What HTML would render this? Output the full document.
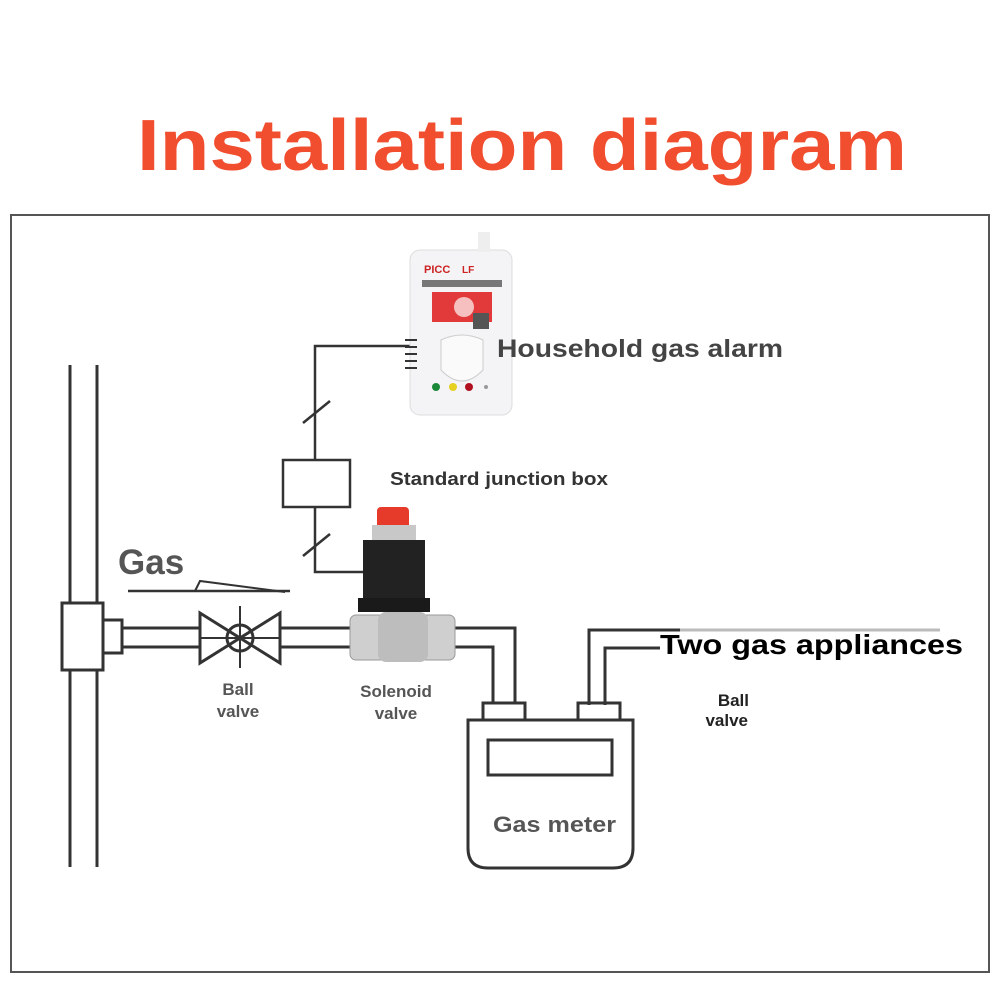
<!DOCTYPE html>
<html><head><meta charset="utf-8"><style>
html,body{margin:0;padding:0;background:#fff;}
svg{display:block}
text{font-family:"Liberation Sans","DejaVu Sans",sans-serif;font-weight:bold}
</style></head><body>
<svg width="1000" height="1000" viewBox="0 0 1000 1000" xmlns="http://www.w3.org/2000/svg">
<rect width="1000" height="1000" fill="#fff"/>
<text x="522" y="170" text-anchor="middle" font-size="72" fill="#f14e2f" textLength="770" lengthAdjust="spacingAndGlyphs">Installation diagram</text>
<rect x="11" y="215" width="978" height="757" fill="none" stroke="#555" stroke-width="2"/>
<g fill="none" stroke="#333" stroke-width="3">
<line x1="70" y1="365" x2="70" y2="867"/>
<line x1="97" y1="365" x2="97" y2="867"/>
<rect x="62" y="603" width="41" height="67" fill="#fff"/>
<rect x="103" y="620" width="19" height="33" fill="#fff"/>
<line x1="122" y1="628" x2="200" y2="628"/>
<line x1="122" y1="647" x2="200" y2="647"/>
<polygon points="200,613 240,638 200,663" fill="#fff"/>
<polygon points="280,613 240,638 280,663" fill="#fff"/>
<circle cx="240" cy="638" r="13"/>
<line x1="240" y1="606" x2="240" y2="668" stroke-width="2"/>
<line x1="200" y1="638" x2="280" y2="638" stroke-width="2"/>
<line x1="280" y1="628" x2="352" y2="628"/>
<line x1="280" y1="647" x2="352" y2="647"/>
<polyline points="455,628 515,628 515,705"/>
<polyline points="455,647 493,647 493,705"/>
<rect x="483" y="703" width="42" height="17" fill="#fff"/>
<rect x="578" y="703" width="42" height="17" fill="#fff"/>
<path d="M468,720 H633 V848 Q633,868 613,868 H488 Q468,868 468,848 Z" fill="#fff"/>
<rect x="488" y="740" width="124" height="35"/>
<polyline points="589,705 589,630 680,630"/>
<polyline points="605,705 605,648 660,648"/>
<polyline points="410,346 315,346 315,460" stroke-width="2.5"/>
<line x1="303" y1="423" x2="330" y2="401" stroke-width="2.5"/>
<rect x="283" y="460" width="67" height="47" stroke-width="2.5"/>
<polyline points="315,507 315,572 365,572" stroke-width="2.5"/>
<line x1="303" y1="556" x2="330" y2="534" stroke-width="2.5"/>
<line x1="128" y1="591" x2="290" y2="591" stroke-width="2.5"/>
<polyline points="195,591 200,581 285,592" stroke-width="2"/>
</g>
<line x1="680" y1="630" x2="940" y2="630" stroke="#bbb" stroke-width="3"/>
<rect x="377" y="507" width="32" height="22" rx="4" fill="#e63a2a"/>
<rect x="372" y="525" width="44" height="18" fill="#c8c8c8"/>
<rect x="363" y="540" width="62" height="60" fill="#222"/>
<rect x="358" y="598" width="72" height="14" fill="#1a1a1a"/>
<rect x="350" y="615" width="105" height="45" rx="6" fill="#cfcfcf" stroke="#999"/>
<rect x="378" y="612" width="50" height="50" rx="8" fill="#bdbdbd"/>
<rect x="410" y="250" width="102" height="165" rx="10" fill="#f4f4f6" stroke="#ddd"/>
<rect x="478" y="232" width="12" height="20" fill="#eee"/>
<text x="424" y="273" font-size="11" fill="#c22">PICC</text>
<text x="462" y="273" font-size="10" fill="#c22">LF</text>
<rect x="422" y="280" width="80" height="7" fill="#777"/>
<rect x="432" y="292" width="60" height="30" fill="#e23a3a"/>
<circle cx="464" cy="307" r="10" fill="#f6c0c0"/>
<rect x="473" y="313" width="16" height="16" fill="#555"/>
<path d="M441,340 Q462,330 483,340 V370 Q462,392 441,370 Z" fill="#fafafa" stroke="#ccc"/>
<g stroke="#333" stroke-width="2"><line x1="405" y1="340" x2="417" y2="340"/><line x1="405" y1="347" x2="417" y2="347"/><line x1="405" y1="354" x2="417" y2="354"/><line x1="405" y1="361" x2="417" y2="361"/><line x1="405" y1="368" x2="417" y2="368"/></g>
<circle cx="436" cy="387" r="4" fill="#1a8a3a"/>
<circle cx="453" cy="387" r="4" fill="#e6d020"/>
<circle cx="469" cy="387" r="4" fill="#b01020"/>
<circle cx="486" cy="387" r="2" fill="#999"/>
<text x="118" y="574" font-size="35" fill="#555">Gas</text>
<text x="497" y="357" font-size="25" fill="#444" textLength="286" lengthAdjust="spacingAndGlyphs">Household gas alarm</text>
<text x="390" y="485" font-size="18" fill="#333" textLength="218" lengthAdjust="spacingAndGlyphs">Standard junction box</text>
<text x="660" y="654" font-size="28" fill="#000" textLength="303" lengthAdjust="spacingAndGlyphs">Two gas appliances</text>
<g font-size="17" fill="#555" text-anchor="middle">
<text x="238" y="695">Ball</text><text x="238" y="717">valve</text>
<text x="396" y="697">Solenoid</text><text x="396" y="719">valve</text>
</g>
<g font-size="17" fill="#222" text-anchor="end">
<text x="749" y="706">Ball</text><text x="748" y="726">valve</text>
</g>
<text x="493" y="832" font-size="22" fill="#555" textLength="123" lengthAdjust="spacingAndGlyphs">Gas meter</text>
</svg>
</body></html>
